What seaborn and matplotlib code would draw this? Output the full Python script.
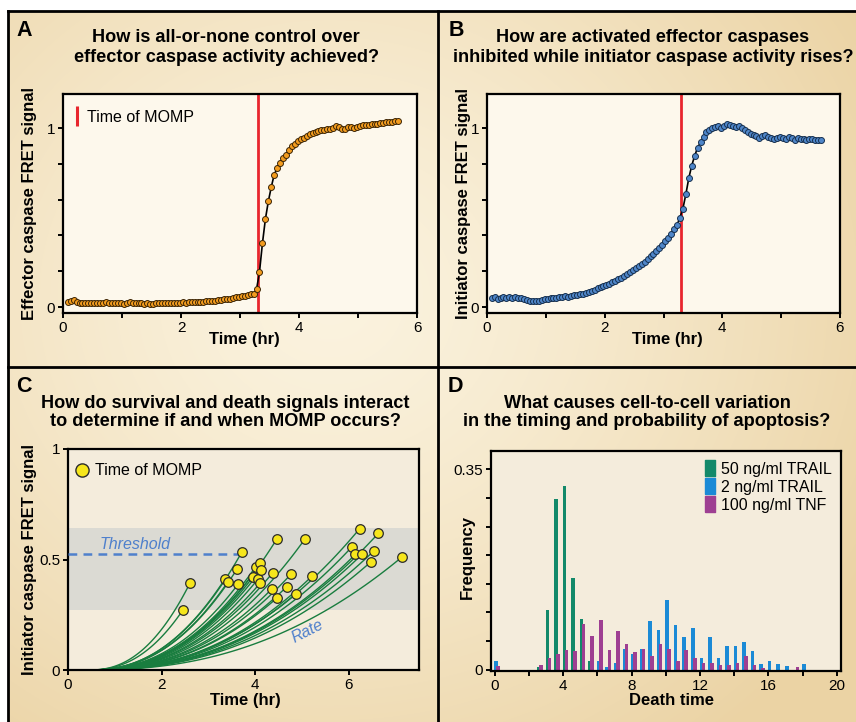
import numpy as np
import pandas as pd
import matplotlib
matplotlib.use("Agg")
import matplotlib.pyplot as plt
from matplotlib.lines import Line2D
from matplotlib.colors import to_rgb
import seaborn as sns

# ------------------------------------------------------------------ data
# Panels A & B: single-cell FRET traces (sampled every 3 min)
time_hr = np.round(np.arange(0.08, 5.70, 0.05), 2)

effector_fret = [
    0.030, 0.032, 0.040, 0.030, 0.024, 0.022, 0.025, 0.021, 0.023, 0.020,
    0.024, 0.022, 0.020, 0.026, 0.023, 0.021, 0.024, 0.020, 0.022, 0.019,
    0.021, 0.026, 0.022, 0.020, 0.023, 0.021, 0.019, 0.022, 0.018, 0.017,
    0.020, 0.022, 0.021, 0.023, 0.022, 0.024, 0.023, 0.025, 0.024, 0.026,
    0.025, 0.027, 0.028, 0.027, 0.029, 0.030, 0.029, 0.031, 0.033, 0.032,
    0.035, 0.038, 0.040, 0.042, 0.045, 0.047, 0.050, 0.054, 0.056, 0.060,
    0.063, 0.067, 0.070, 0.072, 0.098,
    0.195, 0.355, 0.490, 0.590, 0.670, 0.740, 0.775, 0.805, 0.832, 0.852,
    0.876, 0.897, 0.912, 0.925, 0.936, 0.946, 0.955, 0.965, 0.972, 0.978,
    0.983, 0.987, 0.990, 0.992, 0.994, 1.000, 1.012, 1.005, 0.996, 0.992,
    1.004, 1.008, 1.000, 1.005, 1.012, 1.016, 1.018, 1.015, 1.020, 1.024,
    1.022, 1.028, 1.030, 1.032, 1.034, 1.036, 1.038, 1.040,
]

initiator_fret = [
    0.050, 0.055, 0.047, 0.052, 0.056, 0.048, 0.054, 0.050, 0.055, 0.049,
    0.052, 0.044, 0.040, 0.035, 0.032, 0.036, 0.034, 0.040, 0.045, 0.042,
    0.048, 0.052, 0.050, 0.056, 0.054, 0.060, 0.058, 0.064, 0.066, 0.068,
    0.072, 0.075, 0.080, 0.085, 0.090, 0.097, 0.104, 0.110, 0.117, 0.124,
    0.131, 0.138, 0.146, 0.154, 0.163, 0.172, 0.182, 0.193, 0.204, 0.216,
    0.228, 0.241, 0.254, 0.268, 0.283, 0.298, 0.314, 0.331, 0.349, 0.368,
    0.388, 0.410, 0.433, 0.458, 0.500,
    0.550, 0.630, 0.720, 0.790, 0.845, 0.890, 0.920, 0.950, 0.975, 0.990,
    1.000, 1.005, 1.010, 1.000, 1.010, 1.020, 1.015, 1.010, 1.005, 1.010,
    1.000, 0.990, 0.975, 0.965, 0.960, 0.955, 0.945, 0.955, 0.960, 0.950,
    0.945, 0.940, 0.945, 0.950, 0.945, 0.940, 0.950, 0.945, 0.935, 0.945,
    0.940, 0.940, 0.935, 0.940, 0.940, 0.935, 0.935, 0.935,
]
momp_time_hr = 3.3

# Panel C: time and initiator-caspase signal at MOMP for individual cells
momp_time_C = [2.46, 2.61, 3.36, 3.42, 3.61, 3.64, 3.71, 3.96, 4.01, 4.07,
               4.11, 4.12, 4.11, 4.36, 4.37, 4.46, 4.47, 4.67, 4.77, 4.87,
               5.06, 5.22, 6.07, 6.14, 6.23, 6.28, 6.47, 6.53, 6.63, 7.14]
momp_signal_C = [0.273, 0.395, 0.414, 0.400, 0.456, 0.390, 0.532, 0.423, 0.467, 0.414,
                 0.482, 0.452, 0.394, 0.368, 0.439, 0.592, 0.327, 0.376, 0.435, 0.344,
                 0.592, 0.426, 0.558, 0.523, 0.639, 0.523, 0.489, 0.538, 0.618, 0.512]
threshold_level = 0.527
threshold_until_hr = 3.66
threshold_band = (0.27, 0.644)
onset_hr = 0.45          # schematic trajectory onset
trajectory_exponent = 2.3

# Panel D: death-time histograms
death_time_bins = [0, 0.5, 1, 1.5, 2, 2.5, 3, 3.5, 4, 4.5, 5, 5.5, 6, 6.5, 7, 7.5,
                   8, 8.5, 9, 9.5, 10, 10.5, 11, 11.5, 12, 12.5, 13, 13.5, 14, 14.5,
                   15, 15.5, 16, 16.5, 17, 17.5, 18]
freq_trail50 = [0, 0, 0, 0, 0, 0.004, 0.105, 0.298, 0.320, 0.160, 0.088, 0.016,
                0, 0, 0, 0, 0, 0, 0, 0, 0, 0, 0, 0, 0, 0, 0, 0, 0, 0,
                0, 0, 0, 0, 0, 0, 0]
freq_trail2 = [0.016, 0, 0, 0, 0, 0, 0, 0, 0, 0, 0, 0,
               0.016, 0.004, 0.011, 0.037, 0.028, 0.037, 0.085, 0.069, 0.122, 0.078,
               0.057, 0.072, 0.020, 0.057, 0.020, 0.042, 0.042, 0.048, 0.032, 0.010,
               0.016, 0.010, 0.006, 0, 0.010]
freq_tnf100 = [0.007, 0, 0, 0, 0, 0.008, 0.020, 0.028, 0.035, 0.032, 0.080, 0.059,
               0.087, 0.035, 0.067, 0.044, 0.031, 0.036, 0.024, 0.044, 0.036, 0.016,
               0.035, 0.020, 0.012, 0.012, 0.008, 0.008, 0.012, 0.024, 0.009, 0.003,
               0, 0, 0, 0.004, 0]
series_labels = ["50 ng/ml TRAIL", "2 ng/ml TRAIL", "100 ng/ml TNF"]

# ------------------------------------------------------------------ style
sns.set_theme(style="ticks")
plt.rcParams.update({
    "font.family": ["Liberation Sans", "DejaVu Sans"],
    "axes.linewidth": 1.6,
    "axes.edgecolor": "black",
    "axes.labelcolor": "black",
    "text.color": "black",
    "xtick.color": "black", "ytick.color": "black",
    "xtick.major.width": 1.4, "ytick.major.width": 1.4,
    "xtick.major.size": 3.5, "ytick.major.size": 3.5,
    "xtick.major.pad": 2.5, "ytick.major.pad": 2.0,
    "xtick.labelsize": 11, "ytick.labelsize": 11,
})

W, H = 856, 722
fig = plt.figure(figsize=(W / 100, H / 100), dpi=100, facecolor="white")


def rect(l, t, r, b):
    return [l / W, 1 - b / H, (r - l) / W, (b - t) / H]


# background gradient
bg = fig.add_axes(rect(8, 11, 856, 722), zorder=-5)
gy, gx = np.mgrid[11:722, 8:856]
d = np.clip(np.hypot((gx - 330) / 620, (gy - 300) / 560), 0, 1) ** 1.3
c_in, c_out = np.array(to_rgb("#fbf3df")), np.array(to_rgb("#ebd3a4"))
bg.imshow(c_in + (c_out - c_in) * d[..., None], aspect="auto", interpolation="bilinear")
bg.set_axis_off()

# panel dividers
for (x0, y0, x1, y1) in [(8, 11, 856, 11), (8, 11, 8, 722), (438, 11, 438, 722), (8, 367, 856, 367)]:
    fig.add_artist(Line2D([x0 / W, x1 / W], [1 - y0 / H, 1 - y1 / H], transform=fig.transFigure,
                          color="black", lw=2.0, solid_capstyle="projecting"))

axA = fig.add_axes(rect(63, 94, 417, 313))
axB = fig.add_axes(rect(487, 94, 840, 313))
axC = fig.add_axes(rect(68, 449, 419, 670))
axD = fig.add_axes(rect(491, 451, 841, 671))

title_kw = dict(ha="center", va="center", fontsize=13.1, fontweight="bold")
titles = [
    (226, 38, 57, "How is all-or-none control over", "effector caspase activity achieved?"),
    (653, 38, 57, "How are activated effector caspases", "inhibited while initiator caspase activity rises?"),
    (225, 403, 422, "How do survival and death signals interact", "to determine if and when MOMP occurs?"),
    (647, 403, 422, "What causes cell-to-cell variation", "in the timing and probability of apoptosis?"),
]
for x, y1, y2, l1, l2 in titles:
    fig.text(x / W, 1 - y1 / H, l1, **title_kw)
    fig.text(x / W, 1 - y2 / H, l2, **title_kw)
for letter, x, y in [("A", 24, 31), ("B", 456, 30), ("C", 24, 386), ("D", 455, 386)]:
    fig.text(x / W, 1 - y / H, letter, ha="center", va="center", fontsize=15.5, fontweight="bold")

label_kw = dict(fontsize=12, fontweight="bold")
red = "#e8262e"

# ------------------------------------------------------------------ A & B
for ax, vals, fc, ec, ylab, ylx in [
    (axA, effector_fret, "#f39c1e", "#3d2606", "Effector caspase FRET signal", -0.073),
    (axB, initiator_fret, "#4f86c9", "#17304f", "Initiator caspase FRET signal", -0.045),
]:
    ax.set_facecolor("#fdf8ec")
    ax.axvline(momp_time_hr, color=red, lw=2.0, zorder=1.5)
    sns.lineplot(x=time_hr, y=vals, ax=ax, color="black", linewidth=1.2, marker="o",
                 markersize=4.3, markerfacecolor=fc, markeredgecolor=ec, markeredgewidth=0.7,
                 estimator=None, sort=False, zorder=3)
    ax.set_xlim(0, 6)
    ax.set_ylim(-0.0335, 1.19)
    ax.set_xticks(range(7))
    ax.set_xticklabels(["0", "", "2", "", "4", "", "6"])
    ax.set_yticks([0, 0.2, 0.4, 0.6, 0.8, 1.0])
    ax.set_yticklabels(["0", "", "", "", "", "1"])
    ax.set_xlabel("Time (hr)", **label_kw)
    ax.set_ylabel(ylab, **label_kw)
    ax.xaxis.set_label_coords(0.511, -0.085)
    ax.yaxis.set_label_coords(ylx, 0.5)

axA.legend(handles=[Line2D([], [], color=red, marker="|", ls="none", ms=15, mew=2.2)],
           labels=["Time of MOMP"], loc="upper left", bbox_to_anchor=(-0.018, 1.0),
           frameon=False, handlelength=0.6, handletextpad=0.3, fontsize=11.5, borderaxespad=0.6)

# ------------------------------------------------------------------ C
axC.set_facecolor("#f4ecdc")
axC.axhspan(threshold_band[0], threshold_band[1], color="#dbdad3", lw=0, zorder=0.5)
rows = []
for i, (T, Y) in enumerate(zip(momp_time_C, momp_signal_C)):
    t = np.linspace(onset_hr, T, 60)
    rows.append(pd.DataFrame({"cell": i, "t": t,
                              "y": Y * ((t - onset_hr) / (T - onset_hr)) ** trajectory_exponent}))
traj = pd.concat(rows, ignore_index=True)
sns.lineplot(data=traj, x="t", y="y", units="cell", estimator=None, sort=False,
             color="#197d3f", linewidth=1.0, ax=axC, zorder=2)
axC.plot([0, threshold_until_hr], [threshold_level, threshold_level], ls=(0, (3.5, 2.5)),
         color="#4f80cc", lw=1.8, zorder=3)
sns.scatterplot(x=momp_time_C, y=momp_signal_C, ax=axC, color="#f6e61c", edgecolor="#2b2b2b",
                linewidth=0.9, s=48, zorder=4)
axC.text(1.44, 0.57, "Threshold", color="#4f80cc", fontstyle="italic", fontsize=11.5,
         ha="center", va="center")
axC.text(5.11, 0.175, "Rate", color="#4f80cc", fontstyle="italic", fontsize=11.5,
         ha="center", va="center", rotation=27)
axC.set_xlim(0, 7.5)
axC.set_ylim(0, 1)
axC.set_xticks([0, 2, 4, 6])
axC.set_yticks([0, 0.5, 1])
axC.set_yticklabels(["0", "0.5", "1"])
axC.set_xlabel("Time (hr)", **label_kw)
axC.set_ylabel("Initiator caspase FRET signal", **label_kw)
axC.xaxis.set_label_coords(0.504, -0.102)
axC.yaxis.set_label_coords(-0.088, 0.5)
axC.legend(handles=[Line2D([], [], marker="o", ls="none", ms=9.5, mfc="#f6e61c", mec="#2b2b2b", mew=1.0)],
           labels=["Time of MOMP"], loc="upper left", bbox_to_anchor=(-0.02, 1.0), frameon=False,
           handlelength=0.8, handletextpad=0.45, fontsize=11.5, borderaxespad=0.5)

# ------------------------------------------------------------------ D
axD.set_facecolor("#f4ecdc")
bins = np.array(death_time_bins, dtype=float)
colors_D = ["#13896a", "#1b8ad6", "#9e3f92"]
offsets = [0.08, 0.08, 0.2]
for vals, col, off in zip([freq_trail50, freq_trail2, freq_tnf100], colors_D, offsets):
    sns.barplot(x=bins + off, y=vals, native_scale=True, orient="x", width=0.42, color=col,
                saturation=1, linewidth=0, errorbar=None, ax=axD)
axD.set_xlim(-0.22, 20.25)
axD.set_ylim(-0.0023, 0.382)
axD.set_xticks(np.arange(0, 21, 2))
axD.set_xticklabels([str(v) if v % 4 == 0 else "" for v in range(0, 21, 2)])
axD.set_yticks([0, 0.05, 0.10, 0.15, 0.20, 0.25, 0.30, 0.35])
axD.set_yticklabels(["0", "", "", "", "", "", "", "0.35"])
axD.set_xlabel("Death time", **label_kw)
axD.set_ylabel("Frequency", **label_kw)
axD.xaxis.set_label_coords(0.516, -0.102)
axD.yaxis.set_label_coords(-0.046, 0.516)
bar_marker = [(-0.6, -1), (0.6, -1), (0.6, 1), (-0.6, 1), (-0.6, -1)]
axD.legend(handles=[Line2D([], [], marker=bar_marker, ls="none", ms=11, color=c) for c in colors_D],
           labels=series_labels, loc="upper left", bbox_to_anchor=(0.585, 0.995), frameon=False,
           handlelength=0.6, handletextpad=0.35, fontsize=11.5, labelspacing=0.2, borderaxespad=0.2)

for ax in (axA, axB, axC, axD):
    for s in ax.spines.values():
        s.set_visible(True)
        s.set_color("black")
    ax.tick_params(direction="out")

fig.savefig("out.png", dpi=100, facecolor=fig.get_facecolor())
